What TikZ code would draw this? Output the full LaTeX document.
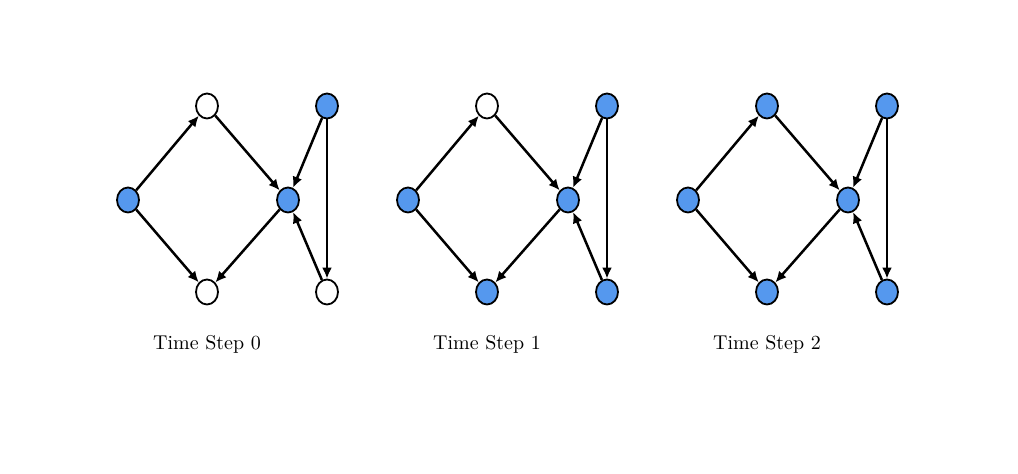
\documentclass[tikz,border=0pt]{standalone}
\usepackage{amsmath, amssymb}
\usepackage{tikz}
\usetikzlibrary{shapes.geometric, arrows.meta}
\definecolor{active}{RGB}{85,152,238}

\begin{document}
\begin{tikzpicture}[x=0.5pt, y=-0.5pt,
    vert/.style={ellipse, draw, line width=0.9pt, inner sep=0pt,
                 minimum width=11pt, minimum height=12.5pt, fill=white},
    on/.style={vert, fill=active},
    edge/.style={line width=1.25pt, -{Latex[length=5.5pt, width=5pt]}}]
    \useasboundingbox (0, 0) rectangle (1018, 474);

    % Time step 0: only the source and the hub are active
    \node[on]   (l0) at (128, 200) {};
    \node[vert] (t0) at (207, 106) {};
    \node[vert] (b0) at (207, 292) {};
    \node[on]   (m0) at (288, 200) {};
    \node[on]   (r0) at (327, 106) {};
    \node[vert] (s0) at (327, 292) {};
    \draw[edge] (l0) -- (t0);
    \draw[edge] (l0) -- (b0);
    \draw[edge] (t0) -- (m0);
    \draw[edge] (m0) -- (b0);
    \draw[edge] (r0) -- (m0);
    \draw[edge] (r0) -- (s0);
    \draw[edge] (s0) -- (m0);
    \node (lab0) at (207, 344) {Time Step 0};

    % Time step 1: bottom nodes become active
    \node[on]   (l1) at (408, 200) {};
    \node[vert] (t1) at (487, 106) {};
    \node[on]   (b1) at (487, 292) {};
    \node[on]   (m1) at (568, 200) {};
    \node[on]   (r1) at (607, 106) {};
    \node[on]   (s1) at (607, 292) {};
    \draw[edge] (l1) -- (t1);
    \draw[edge] (l1) -- (b1);
    \draw[edge] (t1) -- (m1);
    \draw[edge] (m1) -- (b1);
    \draw[edge] (r1) -- (m1);
    \draw[edge] (r1) -- (s1);
    \draw[edge] (s1) -- (m1);
    \node (lab1) at (487, 344) {Time Step 1};

    % Time step 2: everything is active
    \node[on] (l2) at (688, 200) {};
    \node[on] (t2) at (767, 106) {};
    \node[on] (b2) at (767, 292) {};
    \node[on] (m2) at (848, 200) {};
    \node[on] (r2) at (887, 106) {};
    \node[on] (s2) at (887, 292) {};
    \draw[edge] (l2) -- (t2);
    \draw[edge] (l2) -- (b2);
    \draw[edge] (t2) -- (m2);
    \draw[edge] (m2) -- (b2);
    \draw[edge] (r2) -- (m2);
    \draw[edge] (r2) -- (s2);
    \draw[edge] (s2) -- (m2);
    \node (lab2) at (767, 344) {Time Step 2};
\end{tikzpicture}
\end{document}
